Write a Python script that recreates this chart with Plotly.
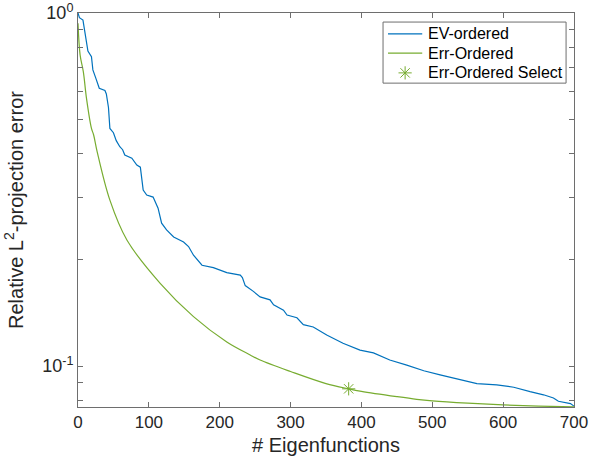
import plotly.graph_objects as go

# EV-ordered (blue)
ev_x = [0, 2, 7, 11, 14, 19, 21, 25, 30, 38, 40, 43, 45, 50, 54, 59, 63, 66, 76, 83, 88, 92, 97,
        106, 113, 118, 125, 135, 149, 156, 163, 175, 191, 210, 229, 232, 236, 247, 257, 271, 276,
        290, 295, 309, 318, 332, 351, 374, 398, 417, 440, 464, 488, 511, 535, 563, 591, 615, 638,
        657, 671, 678, 695, 700]
ev_y = [1.0, 0.97, 0.955, 0.85, 0.78, 0.752, 0.69, 0.655, 0.612, 0.603, 0.59, 0.54, 0.471, 0.458,
        0.435, 0.418, 0.41, 0.396, 0.388, 0.371, 0.366, 0.315, 0.305, 0.301, 0.28, 0.254, 0.243,
        0.232, 0.2245, 0.218, 0.206, 0.193, 0.19, 0.184, 0.181, 0.178, 0.169, 0.163, 0.157, 0.154,
        0.149, 0.144, 0.1395, 0.137, 0.131, 0.129, 0.1224, 0.116, 0.111, 0.109, 0.104, 0.1006,
        0.097, 0.0944, 0.092, 0.0892, 0.0884, 0.0871, 0.0846, 0.0829, 0.0812, 0.0795, 0.0783, 0.0770]

# Err-Ordered (green)
err_x = [0, 3, 7.5, 12, 19, 22, 27, 45, 69, 116, 163, 210, 243, 257, 300, 350, 382, 400, 450,
         478, 500, 550, 600, 650, 700]
err_y = [0.935, 0.76, 0.682, 0.573, 0.471, 0.452, 0.405, 0.295, 0.2275, 0.1715, 0.138, 0.117,
         0.1075, 0.104, 0.0965, 0.0892, 0.0862, 0.0848, 0.0819, 0.0805, 0.0797, 0.0785, 0.0776,
         0.0770, 0.0766]

# Err-Ordered Select (marker)
sel_x = [382]
sel_y = [0.0862]

series_names = ["EV-ordered", "Err-Ordered", "Err-Ordered Select"]
x_ticks = [0, 100, 200, 300, 400, 500, 600, 700]
y_tickvals = [0.1, 1.0]
y_ticktext = ["10<sup>-1</sup>", "10<sup>0</sup>"]

BLUE = "#0072BD"
GREEN = "#77AC30"
FONT = "Liberation Sans, Arial, sans-serif"
axis_col = "#6e6e6e"

fig = go.Figure()
fig.add_trace(go.Scatter(x=ev_x, y=ev_y, mode="lines", name=series_names[0],
                         line=dict(color=BLUE, width=1.2), showlegend=False))
fig.add_trace(go.Scatter(x=err_x, y=err_y, mode="lines", name=series_names[1],
                         line=dict(color=GREEN, width=1.2, shape="spline"), showlegend=False))
star = dict(symbol="asterisk-open", size=11, color=GREEN, line=dict(color=GREEN, width=1))
fig.add_trace(go.Scatter(x=sel_x, y=sel_y, mode="markers", name=series_names[2],
                         marker=star, showlegend=False))

# ---- hand-drawn MATLAB-style legend (paper coordinates) ----
lg_x0, lg_x1, lg_y0, lg_y1 = 0.615, 0.984, 0.822, 0.977
rows_y = [0.947, 0.898, 0.848]
samp_x0, samp_x1, text_x = 0.625, 0.694, 0.702
shapes = [dict(type="rect", xref="paper", yref="paper", x0=lg_x0, x1=lg_x1, y0=lg_y0, y1=lg_y1,
               line=dict(color=axis_col, width=1), fillcolor="white", layer="below")]
for ry, col in zip(rows_y[:2], [BLUE, GREEN]):
    shapes.append(dict(type="line", xref="paper", yref="paper", x0=samp_x0, x1=samp_x1,
                       y0=ry, y1=ry, line=dict(color=col, width=1.3), layer="above"))
annotations = [dict(x=text_x, y=ry, xref="paper", yref="paper", text=nm, showarrow=False,
                    xanchor="left", yanchor="middle", font=dict(size=16, color="#000"))
               for ry, nm in zip(rows_y, series_names)]
fig.add_trace(go.Scatter(x=[(samp_x0 + samp_x1) / 2], y=[rows_y[2]], mode="markers",
                         marker=star, xaxis="x2", yaxis="y2", showlegend=False,
                         hoverinfo="skip"))

fig.update_layout(
    width=590, height=462,
    margin=dict(l=78, r=16, t=13, b=55),
    paper_bgcolor="white", plot_bgcolor="white",
    font=dict(family=FONT, size=17, color="#262626"),
    showlegend=False,
    shapes=shapes, annotations=annotations,
    xaxis=dict(range=[0, 700], tickvals=x_ticks, ticks="inside", ticklen=5,
               tickcolor=axis_col, showline=True, linecolor=axis_col, linewidth=1,
               mirror="ticks", showgrid=False, zeroline=False, automargin=False,
               ticklabeloverflow="allow",
               title=dict(text="# Eigenfunctions", font=dict(size=20), standoff=6),
               tickfont=dict(size=17)),
    yaxis=dict(type="log", range=[-1.116, 0], tickvals=y_tickvals, ticktext=y_ticktext,
               ticks="inside", ticklen=5, tickcolor=axis_col, showline=True,
               linecolor=axis_col, linewidth=1, mirror="ticks", showgrid=False,
               zeroline=False, automargin=False, ticklabeloverflow="allow",
               minor=dict(ticks="inside", ticklen=5, tickcolor=axis_col, dtick="D1",
                          showgrid=False),
               title=dict(text="Relative L<sup>2</sup>-projection error", font=dict(size=20),
                          standoff=13),
               tickfont=dict(size=18)),
    xaxis2=dict(overlaying="x", range=[0, 1], visible=False, fixedrange=True),
    yaxis2=dict(overlaying="y", range=[0, 1], visible=False, fixedrange=True),
)

fig.write_html("out.html", config={"displayModeBar": False},
               post_script="document.body.style.margin='0px';")
